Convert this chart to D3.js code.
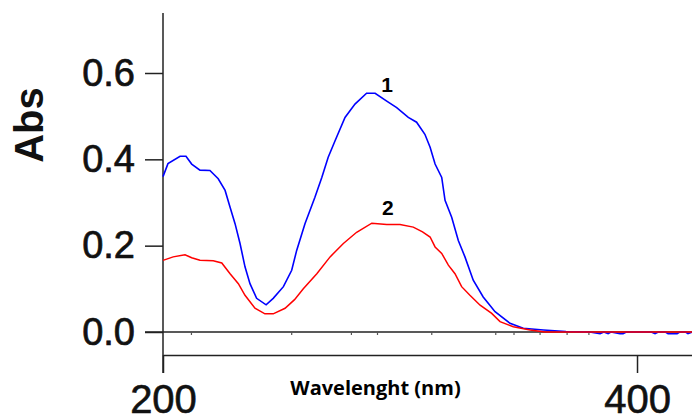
<!DOCTYPE html>
<html>
<head>
<meta charset="utf-8">
<script src="https://cdn.jsdelivr.net/npm/d3@7"></script>
<style>
  body { margin: 0; background: #fff; }
  svg { display: block; }
</style>
</head>
<body>
<div id="chart"></div>
<script>
var width = 692,
    height = 419

// spectrum 1 (blue), [wavelength nm, absorbance]
var wavelength1 = [200, 202.1, 207.2, 209.7, 212.1, 215.6, 219.8, 223.3, 226.2, 228.3, 230.4, 232.5, 234.6, 236.7, 239.5, 243.5, 246.5, 250.8, 254.3, 256.4, 259.9, 264.1, 267, 269.7, 272.6, 276.8, 281, 285.9, 289.5, 294.4, 298.6, 303.5, 307, 310.5, 312.7, 314.8, 317.6, 319, 321.8, 324.6, 327.4, 330.9, 335.1, 340.1, 346.4, 352, 360.5, 370, 380, 384.4, 386, 387.8, 389, 392.8, 394.1, 395.5, 406, 407.6, 409, 412, 413.1, 415.2, 416.9, 418, 420.5, 421.5, 423.5]
var abs1 = [0.360, 0.390, 0.407, 0.407, 0.389, 0.375, 0.374, 0.355, 0.328, 0.289, 0.251, 0.205, 0.151, 0.112, 0.078, 0.063, 0.078, 0.105, 0.143, 0.189, 0.251, 0.312, 0.358, 0.405, 0.443, 0.497, 0.528, 0.553, 0.553, 0.535, 0.520, 0.497, 0.486, 0.458, 0.428, 0.389, 0.358, 0.305, 0.266, 0.212, 0.174, 0.120, 0.081, 0.047, 0.020, 0.0085, 0.0046, 0.001, 0, -0.004, 0, -0.004, 0, -0.004, -0.004, 0, 0, -0.004, 0, 0, -0.004, -0.004, -0.004, 0, 0, -0.004, 0]

// spectrum 2 (red)
var wavelength2 = [200, 204.3, 209.3, 212.1, 215.6, 221.2, 224.8, 228.3, 231.8, 234.6, 238.8, 243, 246.5, 251.5, 255.5, 259.2, 264.9, 270.5, 276.1, 281.7, 288.1, 294.4, 300, 305.6, 309.5, 312.7, 314.8, 317.6, 320.4, 323.2, 326, 329.5, 333.8, 338.7, 342.2, 347.8, 354.9, 361.2, 423.5]
var abs2 = [0.166, 0.174, 0.179, 0.172, 0.166, 0.165, 0.160, 0.135, 0.112, 0.085, 0.055, 0.042, 0.042, 0.055, 0.075, 0.100, 0.135, 0.174, 0.205, 0.231, 0.252, 0.249, 0.249, 0.243, 0.232, 0.220, 0.197, 0.182, 0.155, 0.135, 0.105, 0.085, 0.062, 0.043, 0.024, 0.012, 0.0046, 0, 0]

// small marks on the zero line (nm)
var zeroMarks = [212, 254.3, 279.5, 290.5, 313.4, 340.4, 348.1, 359.1, 370.5, 379.7]

var yTicks = [0, 0.2, 0.4, 0.6]
var xTicks = [200, 400]

// curve labels: [text, nm, abs]
var curveLabels = [["1", 294.5, 0.556], ["2", 294.9, 0.271]]

var svg = d3.select("#chart")
  .append("svg")
    .attr("width", width)
    .attr("height", height)

var x = d3.scaleLinear()
  .domain([200, 423.2])
  .range([163, 692])

var y = d3.scaleLinear()
  .domain([-0.0533, 0.739])
  .range([355, 13])

// x axis
var xAxis = svg.append("g")
  .attr("transform", "translate(0," + y.range()[0] + ")")
  .call(d3.axisBottom(x).tickValues(xTicks).tickFormat(d3.format("d"))
    .tickSize(18).tickSizeOuter(0).tickPadding(12))
xAxis.select(".domain").attr("stroke", "#222").attr("stroke-width", 1.5)
xAxis.selectAll(".tick line").attr("stroke", "#222").attr("stroke-width", 1.5)
xAxis.selectAll("text")
  .attr("fill", "#111")
  .attr("stroke", "#111")
  .attr("stroke-width", 0.6)
  .style("font-family", "'Liberation Sans', Arial, sans-serif")
  .style("font-size", "40px")

// y axis
var yAxis = svg.append("g")
  .attr("transform", "translate(" + x.range()[0] + ",0)")
  .call(d3.axisLeft(y).tickValues(yTicks).tickFormat(d3.format(".1f"))
    .tickSize(18).tickSizeOuter(0).tickPadding(10))
yAxis.select(".domain").remove()
yAxis.selectAll(".tick line").attr("stroke", "#222").attr("stroke-width", 1.5)
yAxis.selectAll("text")
  .attr("fill", "#111")
  .attr("stroke", "#111")
  .attr("stroke-width", 0.7)
  .style("font-family", "'Liberation Sans', Arial, sans-serif")
  .style("font-size", "38px")

// vertical axis line, running down past the bottom axis
svg.append("line")
  .attr("x1", x(200)).attr("x2", x(200))
  .attr("y1", y.range()[1]).attr("y2", y.range()[0] + 18)
  .attr("stroke", "#222")
  .attr("stroke-width", 1.5)

// zero line
svg.append("line")
  .attr("x1", x(200) - 18).attr("x2", x.range()[1])
  .attr("y1", y(0)).attr("y2", y(0))
  .attr("stroke", "#222")
  .attr("stroke-width", 1.5)

svg.selectAll("zeroMarks")
  .data(zeroMarks)
  .enter()
  .append("line")
    .attr("x1", function(d) { return x(d) }).attr("x2", function(d) { return x(d) })
    .attr("y1", y(0)).attr("y2", y(0) + 3)
    .attr("stroke", "#555")
    .attr("stroke-width", 1.2)

var line = d3.line()
  .x(function(d) { return x(d[0]) })
  .y(function(d) { return y(d[1]) })

var series1 = d3.zip(wavelength1, abs1)
var series2 = d3.zip(wavelength2, abs2)

svg.append("path")
  .datum(series1)
  .attr("d", line)
  .attr("fill", "none")
  .attr("stroke", "#0000ff")
  .attr("stroke-width", 1.6)

svg.append("path")
  .datum(series2)
  .attr("d", line)
  .attr("fill", "none")
  .attr("stroke", "#ff0000")
  .attr("stroke-width", 1.5)

svg.selectAll("curveLabels")
  .data(curveLabels)
  .enter()
  .append("text")
    .text(function(d) { return d[0] })
    .attr("x", function(d) { return x(d[1]) })
    .attr("y", function(d) { return y(d[2]) })
    .attr("text-anchor", "middle")
    .style("font-family", "'Liberation Sans', Arial, sans-serif")
    .style("font-weight", "bold")
    .style("font-size", "21px")
    .attr("fill", "#000")

// axis titles
svg.append("text")
  .text("Abs")
  .attr("transform", "translate(43,125) rotate(-90)")
  .attr("text-anchor", "middle")
  .style("font-family", "'Liberation Sans', Arial, sans-serif")
  .style("font-weight", "bold")
  .style("font-size", "40px")
  .attr("fill", "#111")

svg.append("text")
  .text("Wavelenght (nm)")
  .attr("x", 375.5)
  .attr("y", 395)
  .attr("text-anchor", "middle")
  .style("font-family", "'Open Sans', sans-serif")
  .style("font-weight", "bold")
  .style("font-size", "20px")
  .attr("fill", "#000")
</script>
</body>
</html>
